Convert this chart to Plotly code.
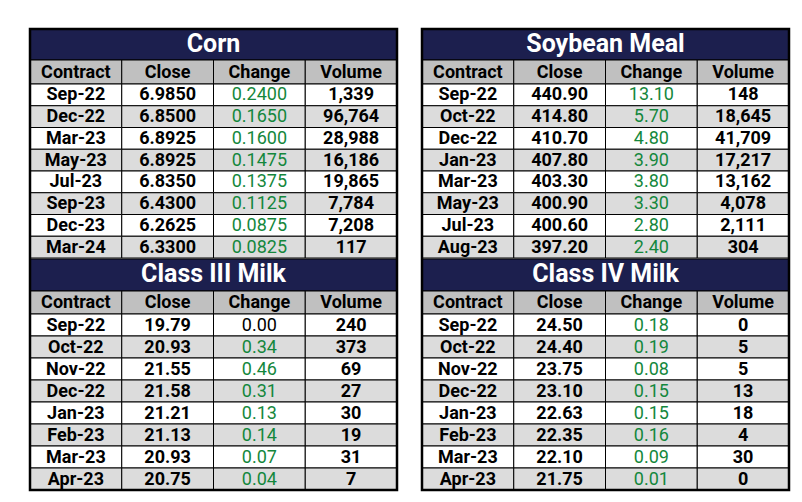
import plotly.graph_objects as go

columns = ["Contract", "Close", "Change", "Volume"]

corn_contract = ["Sep-22", "Dec-22", "Mar-23", "May-23", "Jul-23", "Sep-23", "Dec-23", "Mar-24"]
corn_close = ["6.9850", "6.8500", "6.8925", "6.8925", "6.8350", "6.4300", "6.2625", "6.3300"]
corn_change = ["0.2400", "0.1650", "0.1600", "0.1475", "0.1375", "0.1125", "0.0875", "0.0825"]
corn_volume = ["1,339", "96,764", "28,988", "16,186", "19,865", "7,784", "7,208", "117"]

meal_contract = ["Sep-22", "Oct-22", "Dec-22", "Jan-23", "Mar-23", "May-23", "Jul-23", "Aug-23"]
meal_close = ["440.90", "414.80", "410.70", "407.80", "403.30", "400.90", "400.60", "397.20"]
meal_change = ["13.10", "5.70", "4.80", "3.90", "3.80", "3.30", "2.80", "2.40"]
meal_volume = ["148", "18,645", "41,709", "17,217", "13,162", "4,078", "2,111", "304"]

milk3_contract = ["Sep-22", "Oct-22", "Nov-22", "Dec-22", "Jan-23", "Feb-23", "Mar-23", "Apr-23"]
milk3_close = ["19.79", "20.93", "21.55", "21.58", "21.21", "21.13", "20.93", "20.75"]
milk3_change = ["0.00", "0.34", "0.46", "0.31", "0.13", "0.14", "0.07", "0.04"]
milk3_volume = ["240", "373", "69", "27", "30", "19", "31", "7"]

milk4_contract = ["Sep-22", "Oct-22", "Nov-22", "Dec-22", "Jan-23", "Feb-23", "Mar-23", "Apr-23"]
milk4_close = ["24.50", "24.40", "23.75", "23.10", "22.63", "22.35", "22.10", "21.75"]
milk4_change = ["0.18", "0.19", "0.08", "0.15", "0.15", "0.16", "0.09", "0.01"]
milk4_volume = ["0", "5", "5", "13", "18", "4", "30", "0"]

W, H = 802, 502
NAVY = "#1c1f4e"
GREEN = "#14873c"
FONT = "Roboto"

fig = go.Figure()


def rect(x0, x1, y0, y1, fill, lw=1):
    fig.add_shape(type="rect", xref="x", yref="y", x0=x0, x1=x1, y0=y0, y1=y1,
                  fillcolor=fill, line=dict(color="black", width=lw), layer="below")


def add_block(title, contract, close, change, volume, x0, x1, top, title_h, head_h, cell_h):
    n = len(contract)
    cw = (x1 - x0) / len(columns)
    rect(x0, x1, top, top + title_h, NAVY)
    fig.add_trace(go.Scatter(x=[(x0 + x1) / 2], y=[top + title_h / 2 + 1], mode="text",
                             text=["<b>%s</b>" % title],
                             textfont=dict(family=FONT, size=25, color="white")))
    htop = top + title_h
    for j in range(len(columns)):
        rect(x0 + j * cw, x0 + (j + 1) * cw, htop, htop + head_h, "#c0c0c0")
    fig.add_trace(go.Scatter(x=[x0 + (j + 0.5) * cw for j in range(len(columns))],
                             y=[htop + head_h / 2 + 1] * len(columns), mode="text",
                             text=["<b>%s</b>" % c for c in columns],
                             textfont=dict(family=FONT, size=18, color="black")))
    rtop = htop + head_h
    for i in range(n):
        fill = "white" if i % 2 == 0 else "#dcdcdc"
        for j in range(len(columns)):
            rect(x0 + j * cw, x0 + (j + 1) * cw, rtop + i * cell_h, rtop + (i + 1) * cell_h, fill)
    ys = [rtop + (i + 0.5) * cell_h + 1 for i in range(n)]
    change_colors = ["black" if float(v) == 0 else GREEN for v in change]
    for j, (vals, colors) in enumerate([(contract, "black"), (close, "black"),
                                        (change, change_colors), (volume, "black")]):
        txt = vals if j == 2 else ["<b>%s</b>" % v for v in vals]
        fig.add_trace(go.Scatter(x=[x0 + (j + 0.5) * cw] * n, y=ys, mode="text", text=txt,
                                 textfont=dict(family=FONT, size=18, color=colors)))


add_block("Corn", corn_contract, corn_close, corn_change, corn_volume, 22, 389, 21, 31, 24, 21.75)
add_block("Soybean Meal", meal_contract, meal_close, meal_change, meal_volume, 414, 781, 21, 31, 24, 21.75)
add_block("Class III Milk", milk3_contract, milk3_close, milk3_change, milk3_volume, 22, 389, 251, 32, 23, 22)
add_block("Class IV Milk", milk4_contract, milk4_close, milk4_change, milk4_volume, 414, 781, 251, 32, 23, 22)

for x0, x1 in [(22, 389), (414, 781)]:
    fig.add_shape(type="rect", xref="x", yref="y", x0=x0, x1=x1, y0=21, y1=482,
                  line=dict(color="black", width=2.5))

fig.update_layout(width=W, height=H, margin=dict(l=0, r=0, t=0, b=0),
                  paper_bgcolor="white", plot_bgcolor="white", showlegend=False,
                  xaxis=dict(range=[0, W], visible=False, fixedrange=True),
                  yaxis=dict(range=[H, 0], visible=False, fixedrange=True))
fig.write_html("out.html")
